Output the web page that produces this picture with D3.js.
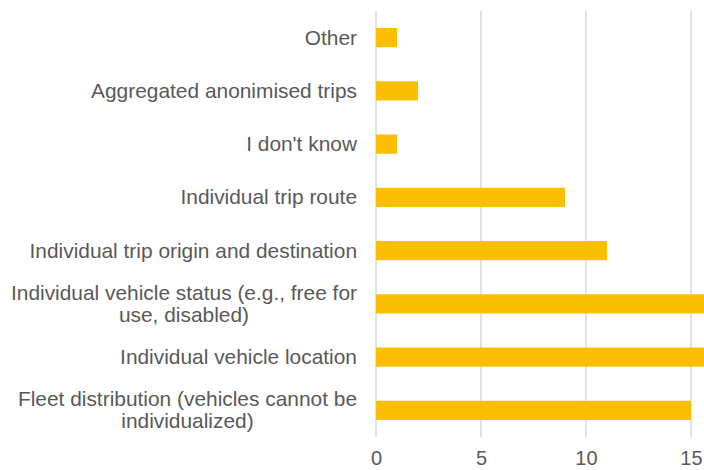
<!DOCTYPE html>
<html>
<head>
<meta charset="utf-8">
<script src="https://cdn.jsdelivr.net/npm/d3@7"></script>
<style>
  body { margin: 0; background: #fff; }
  svg { display: block; font-family: "Liberation Sans", Arial, sans-serif; }
</style>
</head>
<body>
<div id="myChart"></div>
<script>
const categories = [
  "Other",
  "Aggregated anonimised trips",
  "I don't know",
  "Individual trip route",
  "Individual trip origin and destination",
  "Individual vehicle status (e.g., free for use, disabled)",
  "Individual vehicle location",
  "Fleet distribution (vehicles cannot be individualized)"
];
const values = [1, 2, 1, 9, 11, 16, 16, 15];
const xTicks = [0, 5, 10, 15];

const W = 704, H = 470;
const plot = { left: 376, top: 11, bottom: 437 };

const svg = d3
  .select("#myChart")
  .append("svg")
  .attr("width", W)
  .attr("height", H);

// scales
const x = d3.scaleLinear().domain([0, 15.62]).range([plot.left, W]);
const y = d3
  .scaleBand()
  .domain(categories)
  .range([plot.top, plot.bottom])
  .paddingInner(0.64)
  .paddingOuter(0.32);

// gridlines
svg
  .append("g")
  .selectAll("line")
  .data(xTicks)
  .enter()
  .append("line")
  .attr("x1", (d) => x(d))
  .attr("x2", (d) => x(d))
  .attr("y1", plot.top)
  .attr("y2", plot.bottom)
  .attr("stroke", "#d9d9d9")
  .attr("stroke-width", 1.5);

// bars
svg
  .selectAll(".bar")
  .data(values)
  .enter()
  .append("rect")
  .attr("class", "bar")
  .attr("x", x(0))
  .attr("y", (d, i) => y(categories[i]))
  .attr("height", y.bandwidth())
  .attr("width", (d) => x(d) - x(0))
  .attr("fill", "#fbbf00");

// x axis
const xAxis = svg
  .append("g")
  .attr("transform", "translate(0," + plot.bottom + ")")
  .call(d3.axisBottom(x).tickValues(xTicks).tickSize(0).tickPadding(14));
xAxis.select(".domain").remove();
xAxis
  .selectAll("text")
  .attr("fill", "#595959")
  .style("font-size", "20px")
  .style("font-family", "'Liberation Sans', Arial, sans-serif");

// y labels, wrapped; multi-line labels are centred as a block
const maxW = 352, right = 357, lh = 22;
const labels = svg
  .append("g")
  .selectAll("text")
  .data(categories)
  .enter()
  .append("text")
  .attr("fill", "#595959")
  .style("font-size", "20.9px");

labels.each(function (d) {
  const t = d3.select(this);
  const words = d.split(" ");
  let lines = [], line = [];
  const probe = t.append("tspan");
  const widths = [];
  words.forEach((w) => {
    line.push(w);
    probe.text(line.join(" "));
    if (probe.node().getComputedTextLength() > maxW && line.length > 1) {
      line.pop();
      lines.push(line.join(" "));
      line = [w];
    }
  });
  lines.push(line.join(" "));
  lines.forEach((l) => {
    probe.text(l);
    widths.push(probe.node().getComputedTextLength());
  });
  probe.remove();
  const blockW = d3.max(widths);
  const cx = lines.length > 1 ? right - blockW / 2 : right;
  t.attr("text-anchor", lines.length > 1 ? "middle" : "end");
  const cy = y(d) + y.bandwidth() / 2;
  const y0 = cy + 7 - ((lines.length - 1) * lh) / 2;
  lines.forEach((l, i) => {
    t.append("tspan").attr("x", cx).attr("y", y0 + i * lh).text(l);
  });
});
</script>
</body>
</html>
